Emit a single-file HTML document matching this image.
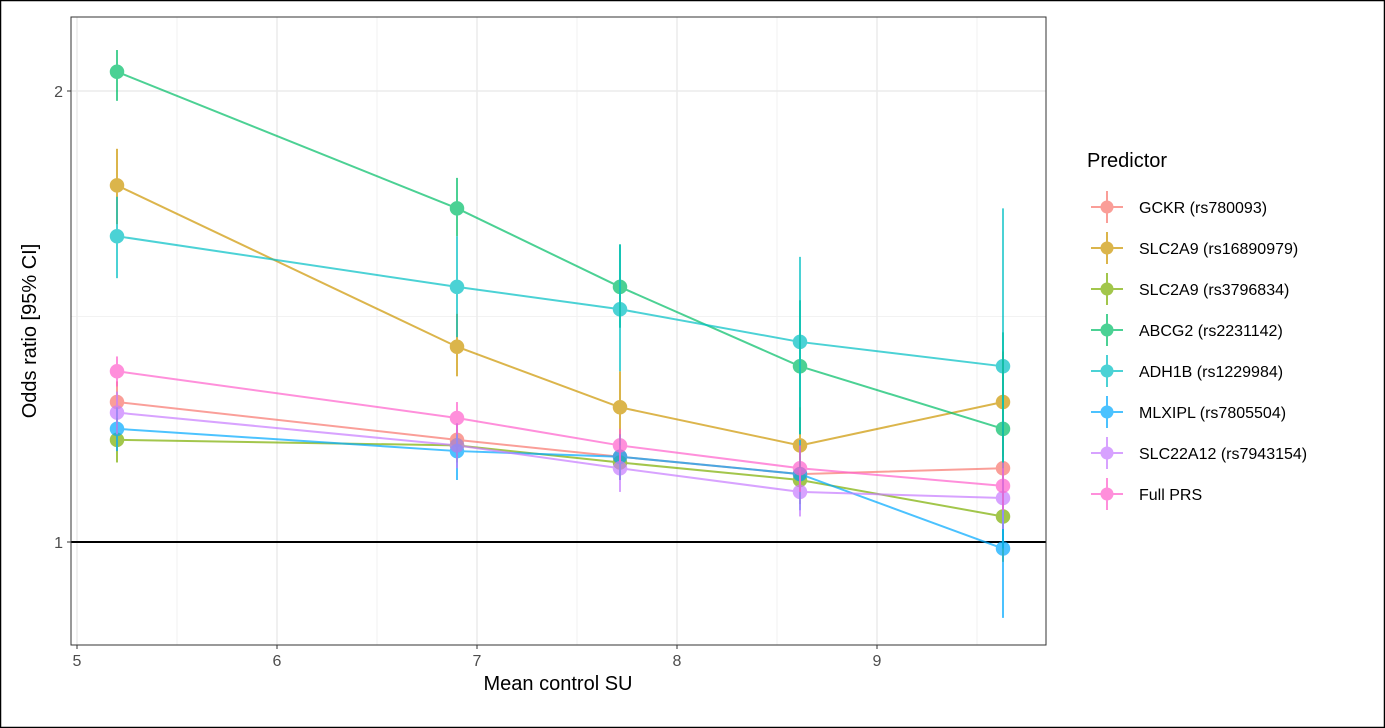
<!DOCTYPE html>
<html><head><meta charset="utf-8"><style>
body{margin:0;background:#fff;}
svg{display:block;font-family:"Liberation Sans",Arial,sans-serif;}
</style></head><body>
<svg id="chart" width="1385" height="728">
<rect x="0.5" y="0.5" width="1384" height="727" fill="#fff" stroke="#000" stroke-width="1.5"/>
<g id="grid"></g><g id="series"></g><g id="axes"></g><g id="legend"></g>
</svg>
<script>
const xVals=[5.2,6.9,7.715,8.615,9.63];
const names=["GCKR (rs780093)","SLC2A9 (rs16890979)","SLC2A9 (rs3796834)","ABCG2 (rs2231142)","ADH1B (rs1229984)","MLXIPL (rs7805504)","SLC22A12 (rs7943154)","Full PRS"];
const colors=["#F8766D","#CD9600","#7CAE00","#00BE67","#00BFC4","#00A9FF","#C77CFF","#FF61CC"];
const est0=[1.24,1.17,1.14,1.11,1.12];
const est1=[1.73,1.35,1.23,1.16,1.24];
const est2=[1.17,1.16,1.13,1.10,1.04];
const est3=[2.06,1.67,1.48,1.31,1.19];
const est4=[1.60,1.48,1.43,1.36,1.31];
const est5=[1.19,1.15,1.14,1.11,0.99];
const est6=[1.22,1.16,1.12,1.08,1.07];
const est7=[1.30,1.21,1.16,1.12,1.09];
const lo0=[1.20,1.14,1.10,1.06,1.05];const hi0=[1.28,1.20,1.18,1.16,1.19];
const lo1=[1.63,1.29,1.17,1.10,1.14];const hi1=[1.83,1.42,1.30,1.23,1.34];
const lo2=[1.13,1.13,1.10,1.06,0.97];const hi2=[1.21,1.19,1.16,1.14,1.11];
const lo3=[1.97,1.60,1.39,1.18,1.05];const hi3=[2.13,1.75,1.58,1.45,1.38];
const lo4=[1.50,1.37,1.30,1.18,0.99];const hi4=[1.70,1.60,1.58,1.55,1.67];
const lo5=[1.15,1.10,1.10,1.05,0.89];const hi5=[1.23,1.20,1.18,1.17,1.10];
const lo6=[1.18,1.12,1.08,1.04,1.02];const hi6=[1.26,1.20,1.16,1.12,1.12];
const lo7=[1.27,1.18,1.13,1.08,1.05];const hi7=[1.33,1.24,1.19,1.16,1.13];
const xTicks=[5,6,7,8,9];
const yTicks=[1,2];
const ests=[est0,est1,est2,est3,est4,est5,est6,est7];
const los=[lo0,lo1,lo2,lo3,lo4,lo5,lo6,lo7];
const his=[hi0,hi1,hi2,hi3,hi4,hi5,hi6,hi7];
const P={l:71,r:1046,t:17,b:645};
const xS=v=>77+(v-5)*200;
const yS=v=>542-Math.log2(v)*451;
const NS="http://www.w3.org/2000/svg";
function mk(parent,tag,attrs,text){const e=document.createElementNS(NS,tag);for(const k in attrs)e.setAttribute(k,attrs[k]);if(text!==undefined)e.textContent=text;parent.appendChild(e);return e;}
const grid=document.getElementById('grid'),ser=document.getElementById('series'),ax=document.getElementById('axes'),lg=document.getElementById('legend');
const bg=mk(grid,'rect',{x:P.l,y:P.t,width:P.r-P.l,height:P.b-P.t,fill:'#fff'});


for(let i=0;i<xTicks.length;i++){const m=xTicks[i]+0.5;const g=mk(grid,'line',{x1:xS(m),x2:xS(m),y1:P.t,y2:P.b,stroke:'#f2f2f2','stroke-width':1});

}
const mg=mk(grid,'line',{x1:P.l,x2:P.r,y1:yS(Math.SQRT2),y2:yS(Math.SQRT2),stroke:'#f2f2f2','stroke-width':1});


xTicks.forEach(t=>{const g=mk(grid,'line',{x1:xS(t),x2:xS(t),y1:P.t,y2:P.b,stroke:'#ebebeb','stroke-width':1.5});


mk(ax,'line',{x1:xS(t),x2:xS(t),y1:P.b,y2:P.b+4,stroke:'#333'});
const tl=mk(ax,'text',{x:xS(t),y:P.b+21,'text-anchor':'middle','font-size':16,fill:'#4d4d4d'},t);

});
yTicks.forEach(t=>{const g=mk(grid,'line',{x1:P.l,x2:P.r,y1:yS(t),y2:yS(t),stroke:'#ebebeb','stroke-width':1.5});


mk(ax,'line',{x1:P.l-4,x2:P.l,y1:yS(t),y2:yS(t),stroke:'#333'});
const tl=mk(ax,'text',{x:P.l-8,y:yS(t)+6,'text-anchor':'end','font-size':16,fill:'#4d4d4d'},t);

});
const ref=mk(ser,'line',{x1:P.l,x2:P.r,y1:yS(1),y2:yS(1),stroke:'#000','stroke-width':2});


ests.forEach((e,s)=>{
 const g=mk(ser,'g',{opacity:0.7});
 
 
 const pl=mk(g,'polyline',{points:e.map((v,i)=>xS(xVals[i])+','+yS(v)).join(' '),fill:'none',stroke:colors[s],'stroke-width':2});
 
 
 e.forEach((v,i)=>{
  const eb=mk(g,'line',{x1:xS(xVals[i]),x2:xS(xVals[i]),y1:yS(los[s][i]),y2:yS(his[s][i]),stroke:colors[s],'stroke-width':2});
  
  
  const c=mk(g,'circle',{cx:xS(xVals[i]),cy:yS(v),r:6.5,fill:colors[s],stroke:colors[s],'stroke-width':1.5});
  
  
 });
});
const fr=mk(ax,'rect',{x:P.l,y:P.t,width:P.r-P.l,height:P.b-P.t,fill:'none',stroke:'#333','stroke-width':1});


const xt=mk(ax,'text',{x:558,y:690,'text-anchor':'middle','font-size':20,fill:'#000'},'Mean control SU');


const yt=mk(ax,'text',{x:0,y:0,'text-anchor':'middle','font-size':20,fill:'#000',transform:'translate(36,331) rotate(-90)'},'Odds ratio [95% CI]');


const lt=mk(lg,'text',{x:1087,y:167,'font-size':20,fill:'#000'},'Predictor');


names.forEach((n,i)=>{const y=207+i*41;
 const g=mk(lg,'g',{});
 
 
 const k=mk(g,'g',{opacity:0.7});
 mk(k,'line',{x1:1091,x2:1123,y1:y,y2:y,stroke:colors[i],'stroke-width':2});
 mk(k,'line',{x1:1107,x2:1107,y1:y-16,y2:y+16,stroke:colors[i],'stroke-width':2});
 mk(k,'circle',{cx:1107,cy:y,r:6.5,fill:colors[i]});
 mk(g,'text',{x:1139,y:y+6,'font-size':16,fill:'#000'},n);
});
</script>
</body></html>
